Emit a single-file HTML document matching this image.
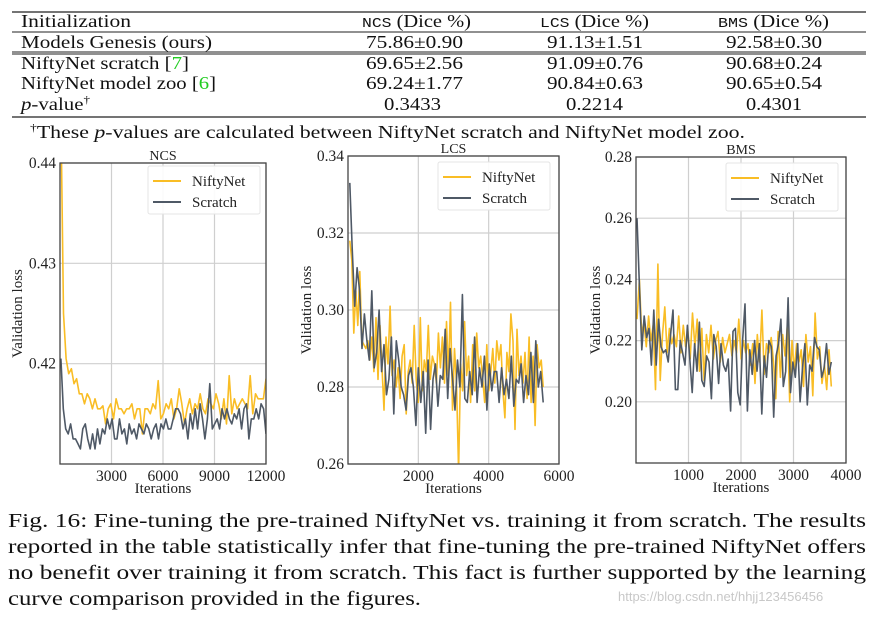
<!DOCTYPE html>
<html><head><meta charset="utf-8">
<style>
body{margin:0;width:880px;height:618px;background:#fff;overflow:hidden;font-family:"Liberation Serif",serif;color:#111}
#wm{position:absolute;left:618px;top:589px;font-family:"Liberation Sans",sans-serif;font-size:13px;color:#c8c8c8}
svg{position:absolute;left:0;top:0}
</style></head><body>
<svg id="svg" width="880" height="618"></svg>
<div id="wm">https://blog.csdn.net/hhjj123456456</div>
<script>
const ncsNifty=[0.445,0.425,0.4205,0.419,0.4195,0.418,0.4185,0.417,0.417,0.416,0.417,0.4165,0.4155,0.4165,0.4155,0.4155,0.4158,0.414,0.4155,0.416,0.4145,0.4165,0.4155,0.4155,0.415,0.4155,0.4155,0.416,0.4145,0.4155,0.4155,0.413,0.4155,0.4155,0.415,0.416,0.4155,0.4183,0.4145,0.415,0.416,0.4155,0.4165,0.4145,0.4155,0.4175,0.416,0.414,0.4155,0.4165,0.415,0.416,0.4155,0.417,0.4155,0.415,0.4165,0.416,0.4155,0.417,0.416,0.4145,0.4165,0.414,0.4188,0.415,0.4165,0.4155,0.416,0.4165,0.416,0.4155,0.4188,0.415,0.417,0.4165,0.4165,0.4165,0.4185];
const ncsScratch=[0.4205,0.4155,0.4135,0.413,0.414,0.4125,0.4125,0.412,0.4115,0.4135,0.414,0.4125,0.4115,0.413,0.4115,0.4135,0.412,0.4135,0.413,0.4145,0.4135,0.4145,0.4125,0.4125,0.4145,0.413,0.4135,0.412,0.414,0.413,0.4135,0.4125,0.414,0.4135,0.413,0.414,0.4135,0.4125,0.4135,0.414,0.4125,0.414,0.4135,0.4145,0.4135,0.4135,0.4145,0.4155,0.4155,0.415,0.4135,0.4145,0.4125,0.415,0.4135,0.4155,0.4135,0.416,0.4145,0.4125,0.4145,0.418,0.4135,0.414,0.4145,0.4135,0.4155,0.4145,0.4155,0.4145,0.414,0.415,0.4145,0.4155,0.4135,0.4155,0.416,0.4125,0.4145,0.4145,0.4155,0.4145,0.416,0.4155,0.413];
const lcsNifty=[0.318,0.313,0.294,0.305,0.296,0.310,0.292,0.291,0.290,0.292,0.287,0.293,0.284,0.298,0.282,0.296,0.285,0.274,0.293,0.286,0.301,0.283,0.287,0.280,0.285,0.277,0.288,0.291,0.273,0.284,0.287,0.281,0.296,0.282,0.276,0.298,0.279,0.287,0.284,0.296,0.282,0.288,0.286,0.281,0.294,0.285,0.293,0.281,0.297,0.283,0.302,0.274,0.290,0.281,0.258,0.286,0.279,0.297,0.283,0.288,0.276,0.291,0.279,0.294,0.285,0.288,0.282,0.276,0.291,0.279,0.284,0.290,0.281,0.292,0.287,0.291,0.279,0.272,0.289,0.284,0.299,0.292,0.269,0.295,0.283,0.288,0.281,0.289,0.277,0.293,0.276,0.288,0.270,0.291,0.285,0.287,0.280];
const lcsScratch=[0.333,0.316,0.301,0.311,0.305,0.290,0.299,0.292,0.287,0.305,0.285,0.289,0.300,0.284,0.291,0.278,0.282,0.293,0.273,0.292,0.287,0.280,0.278,0.274,0.283,0.285,0.280,0.270,0.285,0.276,0.284,0.268,0.287,0.269,0.282,0.286,0.275,0.283,0.282,0.295,0.277,0.290,0.282,0.274,0.287,0.280,0.304,0.277,0.276,0.284,0.278,0.293,0.276,0.285,0.280,0.288,0.274,0.286,0.279,0.284,0.284,0.276,0.285,0.278,0.282,0.277,0.288,0.275,0.282,0.281,0.286,0.276,0.283,0.278,0.289,0.276,0.292,0.280,0.284,0.276];
const bmsNifty=[0.227,0.240,0.222,0.226,0.218,0.228,0.220,0.225,0.204,0.245,0.207,0.222,0.231,0.216,0.224,0.219,0.222,0.218,0.228,0.216,0.225,0.218,0.223,0.214,0.229,0.218,0.227,0.210,0.224,0.207,0.222,0.216,0.225,0.214,0.220,0.223,0.213,0.221,0.216,0.219,0.222,0.215,0.220,0.216,0.227,0.214,0.220,0.216,0.219,0.212,0.219,0.206,0.222,0.213,0.230,0.209,0.219,0.216,0.221,0.213,0.201,0.223,0.208,0.222,0.215,0.225,0.200,0.220,0.210,0.219,0.213,0.217,0.205,0.222,0.213,0.218,0.202,0.229,0.214,0.218,0.206,0.212,0.204,0.217,0.205];
const bmsScratch=[0.260,0.238,0.217,0.228,0.221,0.224,0.212,0.230,0.212,0.227,0.218,0.216,0.217,0.213,0.222,0.230,0.204,0.204,0.220,0.216,0.212,0.225,0.214,0.203,0.219,0.210,0.226,0.207,0.205,0.215,0.213,0.201,0.222,0.218,0.206,0.219,0.212,0.210,0.214,0.197,0.223,0.224,0.203,0.199,0.220,0.232,0.197,0.217,0.209,0.220,0.210,0.219,0.196,0.215,0.208,0.220,0.218,0.195,0.215,0.219,0.227,0.205,0.210,0.234,0.203,0.213,0.208,0.219,0.200,0.211,0.219,0.199,0.212,0.210,0.221,0.218,0.217,0.208,0.211,0.219,0.209,0.213];
const ncsXTicks=[3000,6000,9000,12000];
const ncsYTicks=[0.42,0.43,0.44];
const lcsXTicks=[2000,4000,6000];
const lcsYTicks=[0.26,0.28,0.30,0.32,0.34];
const bmsXTicks=[1000,2000,3000,4000];
const bmsYTicks=[0.20,0.22,0.24,0.26,0.28];
const ncsYLabels=["0.42","0.43","0.44"];
const lcsYLabels=["0.26","0.28","0.30","0.32","0.34"];
const bmsYLabels=["0.20","0.22","0.24","0.26","0.28"];

const NS="http://www.w3.org/2000/svg";
const svg=document.getElementById('svg');
function mk(tag,attrs,parent){const e=document.createElementNS(NS,tag);for(const k in attrs)e.setAttribute(k,attrs[k]);(parent||svg).appendChild(e);return e;}
function txt(parent,x,y,w,size,html){const t=mk('text',{x:x,y:y,'font-size':size,fill:'#111',textLength:w,lengthAdjust:'spacingAndGlyphs'},parent);t.innerHTML=html;return t;}

// ---- table ----
const tb=mk('g',{});


[[12,1.3],[32,1.1],[52,0.9],[54,0.9],[117,1.3]].forEach(([y,w])=>{const l=mk('line',{x1:12,x2:866,y1:y,y2:y,stroke:'#222','stroke-width':w},tb);

});
const MONO='<tspan font-family="Liberation Mono, monospace" font-size="14">';
const rows=[
 [27,[[21,110,'Initialization'],[362,109,MONO+'NCS</tspan> (Dice %)'],[540,109,MONO+'LCS</tspan> (Dice %)'],[718,111,MONO+'BMS</tspan> (Dice %)']]],
 [48,[[21,191,'Models Genesis (ours)'],[366,97,'75.86±0.90'],[547,96,'91.13±1.51'],[726,96,'92.58±0.30']]],
 [69,[[21,168,'NiftyNet scratch [<tspan fill="#22cc22">7</tspan>]'],[366,97,'69.65±2.56'],[547,96,'91.09±0.76'],[726,96,'90.68±0.24']]],
 [89,[[21,195,'NiftyNet model zoo [<tspan fill="#22cc22">6</tspan>]'],[366,97,'69.24±1.77'],[547,96,'90.84±0.63'],[726,96,'90.65±0.54']]],
 [110,[[21,69,'<tspan font-style="italic">p</tspan>-value<tspan font-size="11" dy="-7">†</tspan>'],[384,57,'0.3433'],[566,57,'0.2214'],[746,56,'0.4301']]]];
rows.forEach(([y,cells])=>{const r=mk('g',{},tb);
 
 
 cells.forEach(([x,w,h])=>txt(r,x,y,w,17.5,h));});
const fn=txt(tb,30,138,715,17.5,'<tspan font-size="11" dy="-7">†</tspan><tspan dy="7">These </tspan><tspan font-style="italic">p</tspan>-values are calculated between NiftyNet scratch and NiftyNet model zoo.');



// ---- caption ----
const cap=mk('g',{});


[[527,858,'Fig. 16: Fine-tuning the pre-trained NiftyNet vs. training it from scratch. The results'],
 [553,858,'reported in the table statistically infer that fine-tuning the pre-trained NiftyNet offers'],
 [579,858,'no benefit over training it from scratch. This fact is further supported by the learning'],
 [605,413,'curve comparison provided in the figures.']].forEach(([y,w,t])=>txt(cap,8,y,w,20,t));

// ---- charts ----
const YEL="#f9bd25",GRY="#4f5966";
function chart(c){
  const g=mk('g',{});
  
  
  const sx=v=>c.x0+(v-c.xmin)/(c.xmax-c.xmin)*(c.x1-c.x0);
  const sy=v=>c.y1-(v-c.ymin)/(c.ymax-c.ymin)*(c.y1-c.y0);
  c.xt.forEach(t=>{const x=sx(t);
    const l=mk('line',{x1:x,x2:x,y1:c.y0,y2:c.y1,stroke:'#cfcfcf','stroke-width':1.2},g);
    
    
    const tx=mk('text',{x:x,y:c.y1+17,'text-anchor':'middle','font-size':15.5,fill:'#222'},g);tx.textContent=t;
    
    });
  c.yt.forEach((t,i)=>{const y=sy(t);
    const l=mk('line',{x1:c.x0,x2:c.x1,y1:y,y2:y,stroke:'#cfcfcf','stroke-width':1.2},g);
    
    
    const tx=mk('text',{x:c.x0-4,y:y+5,'text-anchor':'end','font-size':15.5,fill:'#222'},g);tx.textContent=c.yl[i];
    
    });
  const cp=mk('clipPath',{id:'cp'+c.id},g);mk('rect',{x:c.x0,y:c.y0,width:c.x1-c.x0,height:c.y1-c.y0},cp);
  [[c.s1,YEL,'niftynet-line'],[c.s2,GRY,'scratch-line']].forEach(([d,col,nm])=>{
    const n=d.length;const pts=d.map((v,i)=>sx(c.xmin+c.xstart+i*(c.xend-c.xstart)/(n-1)).toFixed(1)+','+sy(v).toFixed(1)).join(' ');
    const p=mk('polyline',{points:pts,fill:'none',stroke:col,'stroke-width':1.6,'clip-path':'url(#cp'+c.id+')','stroke-linejoin':'round'},g);
    
    });
  const fr=mk('rect',{x:c.x0,y:c.y0,width:c.x1-c.x0,height:c.y1-c.y0,fill:'none',stroke:'#444','stroke-width':1.3},g);
  
  
  const ti=mk('text',{x:(c.x0+c.x1)/2,y:c.y0-3,'text-anchor':'middle','font-size':14,fill:'#222'},g);ti.textContent=c.title;
  
  
  const xl=mk('text',{x:(c.x0+c.x1)/2,y:c.y1+29,'text-anchor':'middle','font-size':15,fill:'#222'},g);xl.textContent='Iterations';
  
  
  const yx=c.ylx,yy=(c.y0+c.y1)/2;
  const yl=mk('text',{x:yx,y:yy,'text-anchor':'middle','font-size':15,fill:'#222',transform:'rotate(-90 '+yx+' '+yy+')'},g);yl.textContent='Validation loss';
  
  
  const lg=mk('g',{},g);
  
  
  mk('rect',{x:c.lx,y:c.ly,width:112,height:48,fill:'#fff','fill-opacity':0.9,stroke:'#e4e4e4',rx:2},lg);
  [['NiftyNet',YEL,15],['Scratch',GRY,36]].forEach(([t,col,dy])=>{
    const e=mk('g',{},lg);
    
    
    mk('line',{x1:c.lx+5,x2:c.lx+33,y1:c.ly+dy,y2:c.ly+dy,stroke:col,'stroke-width':2},e);
    const tx=mk('text',{x:c.lx+44,y:c.ly+dy+5,'font-size':15,fill:'#222'},e);tx.textContent=t;});
}
chart({id:'ncs',title:'NCS',x0:60,x1:266,y0:163,y1:464,xmin:0,xmax:12000,ymin:0.41,ymax:0.44,xstart:50,xend:12000,xt:ncsXTicks,yt:ncsYTicks,yl:ncsYLabels,s1:ncsNifty,s2:ncsScratch,lx:148,ly:166,ylx:22});
chart({id:'lcs',title:'LCS',x0:348,x1:559,y0:156,y1:464,xmin:0,xmax:6000,ymin:0.26,ymax:0.34,xstart:50,xend:5550,xt:lcsXTicks,yt:lcsYTicks,yl:lcsYLabels,s1:lcsNifty,s2:lcsScratch,lx:438,ly:162,ylx:311});
chart({id:'bms',title:'BMS',x0:636,x1:846,y0:157,y1:463,xmin:0,xmax:4000,ymin:0.18,ymax:0.28,xstart:20,xend:3720,xt:bmsXTicks,yt:bmsYTicks,yl:bmsYLabels,s1:bmsNifty,s2:bmsScratch,lx:726,ly:163,ylx:600});
</script>
</body></html>
